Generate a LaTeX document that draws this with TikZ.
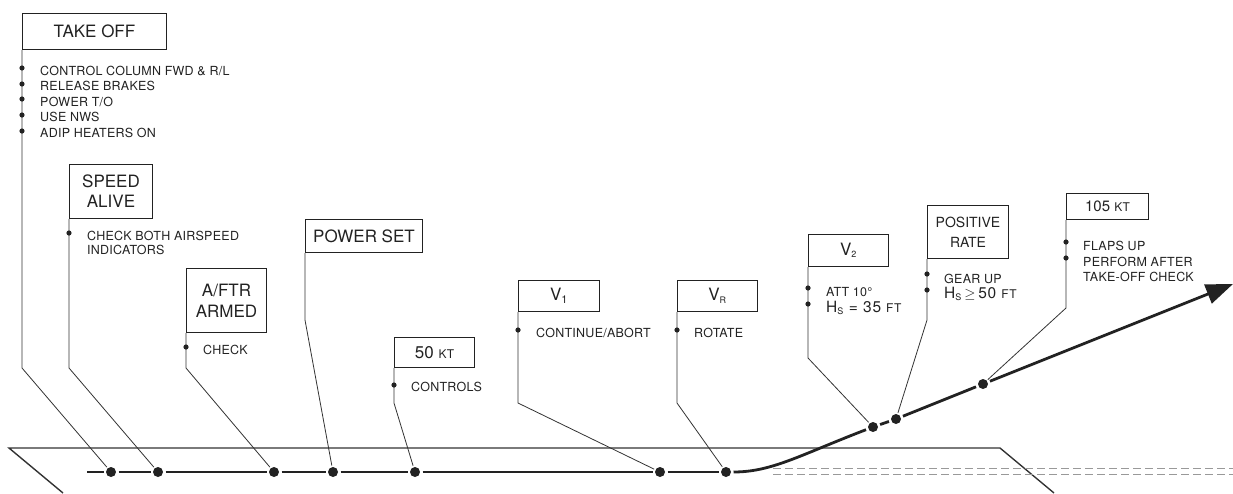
\documentclass[tikz,border=0pt]{standalone}
\usepackage{fontspec}
\setmainfont{TeX Gyre Heros}
\newfontfamily\smf[LetterSpace=2]{TeX Gyre Heros}
\newfontfamily\midsp[LetterSpace=5]{TeX Gyre Heros}
\usetikzlibrary{arrows.meta}
\definecolor{ink}{HTML}{222222}
\definecolor{lead}{HTML}{333333}
\newcommand{\bigf}{\fontsize{17}{20}\selectfont}
\newcommand{\midf}{\fontsize{14}{20}\selectfont}
\newcommand{\smallf}{\smf\fontsize{12.5}{14}\selectfont}
\newcommand{\scf}[1]{{\fontsize{12}{12}\selectfont #1}}
\newcommand{\tinysub}[1]{\textsubscript{\fontsize{9}{9}\selectfont #1}}
\begin{document}
\begin{tikzpicture}[x=1pt,y=-1pt,
  box/.style={draw=ink, line width=1pt, inner sep=0pt, anchor=north west, align=center, text=ink},
  leader/.style={draw=lead, line width=0.8pt},
  leadend/.style={leader, shorten >=6.5pt},
  cline/.style={draw=ink, line width=2.6pt, shorten <=7.5pt, shorten >=7.5pt},
  rway/.style={draw=lead, line width=1.4pt},
  dashrw/.style={draw=gray!80, line width=1pt, dash pattern=on 8pt off 4pt},
  txt/.style={anchor=base west, inner sep=0pt, text=ink, font=\smallf},
  bul/.style={fill=ink}
]
\useasboundingbox (0,0) rectangle (1233,493);

% runway
\draw[rway] (63,493) -- (9,448) -- (1000,448) -- (1054,493);
\draw[dashrw] (773,468) -- (1233,468);
\draw[dashrw] (773,474) -- (1233,474);

% centreline dots
\coordinate (c0) at (87,472);
\coordinate (d1) at (111,472);
\coordinate (d2) at (158,472);
\coordinate (d3) at (274,472);
\coordinate (d4) at (333,472);
\coordinate (d5) at (415,472);
\coordinate (d6) at (660,472);
\coordinate (d7) at (726,472);
\coordinate (d8) at (873,427);
\coordinate (d9) at (896,419);
\coordinate (d10) at (983,384);
\coordinate (tip) at (1233,284);

\draw[cline, shorten <=0pt] (c0) -- (d1);
\draw[cline] (d1) -- (d2);
\draw[cline] (d2) -- (d3);
\draw[cline] (d3) -- (d4);
\draw[cline] (d4) -- (d5);
\draw[cline] (d5) -- (d6);
\draw[cline] (d6) -- (d7);
\draw[cline, line width=2.8pt] (d7) .. controls (772,472) and (800,455) .. (d8);
\draw[cline, line width=2.8pt] (d8) -- (d9);
\draw[cline, line width=2.8pt] (d9) -- (d10);
\draw[draw=ink, line width=2.8pt, shorten <=7.5pt, -{Triangle[length=27pt,width=20pt]}] (d10) -- (tip);
\foreach \d in {d1,d2,d3,d4,d5,d6,d7,d8,d9,d10} \fill[ink] (\d) circle (5);

% 1 TAKE OFF
\node[box, minimum width=144pt, minimum height=36pt, font=\bigf] (to) at (22,13) {TAKE OFF};
\coordinate (b1) at (22,368);
\draw[leadend] (to.south west) -- (b1) -- (d1);
\foreach \y in {68,84,99,115,131} \fill[bul] (22,\y) circle (2.6);
\node[txt] (t1a) at (40,75) {CONTROL COLUMN FWD \& R/L};
\node[txt] (t1b) at (40,90.5) {RELEASE BRAKES};
\node[txt] (t1c) at (40,106) {POWER T/O};
\node[txt] (t1d) at (40,121.5) {USE NWS};
\node[txt] (t1e) at (40,137.5) {ADIP HEATERS ON};

% 2 SPEED ALIVE
\node[box, minimum width=83pt, minimum height=54pt, font=\bigf] (sa) at (69,164) {SPEED\\ALIVE};
\coordinate (b2) at (69,368);
\draw[leadend] (sa.south west) -- (b2) -- (d2);
\fill[bul] (69,233) circle (2.6);
\node[txt] (t2a) at (87,240.5) {CHECK BOTH AIRSPEED};
\node[txt] (t2b) at (87,254.5) {INDICATORS};

% 3 A/FTR ARMED
\node[box, minimum width=80pt, minimum height=64pt, font=\fontsize{17}{21}\selectfont] (af) at (186,268) {A/FTR\\ARMED};
\coordinate (b3) at (186,368);
\draw[leadend] (af.south west) -- (b3) -- (d3);
\fill[bul] (186,347) circle (2.6);
\node[txt] (t3a) at (203,354) {CHECK};

% 4 POWER SET
\node[box, minimum width=117pt, minimum height=33pt, font=\bigf] (ps) at (305,219) {POWER SET};
\coordinate (b4) at (305,320);
\draw[leadend] (ps.south west) -- (b4) -- (d4);

% 5 50 KT
\node[box, minimum width=80pt, minimum height=30pt, font=\bigf] (k50) at (394,337) {50 \scf{KT}};
\coordinate (b5) at (394,403);
\draw[leadend] (k50.south west) -- (b5) -- (d5);
\fill[bul] (394,385) circle (2.6);
\node[txt] (t5a) at (411,391) {CONTROLS};

% 6 V1
\node[box, minimum width=81pt, minimum height=31pt, font=\bigf] (v1) at (518,280) {V\textsubscript{\fontsize{11}{11}\selectfont 1}};
\coordinate (b6) at (518,403);
\draw[leadend] (v1.south west) -- (b6) -- (d6);
\fill[bul] (518,330) circle (2.6);
\node[txt] (t6a) at (536,337) {CONTINUE/ABORT};

% 7 VR
\node[box, minimum width=80pt, minimum height=31pt, font=\bigf] (vr) at (677,280) {V\tinysub{R}};
\coordinate (b7) at (677,403);
\draw[leadend] (vr.south west) -- (b7) -- (d7);
\fill[bul] (677,330) circle (2.6);
\node[txt] (t7a) at (694,337) {ROTATE};

% 8 V2
\node[box, minimum width=80pt, minimum height=32pt, font=\bigf] (v2) at (808,234) {V\tinysub{2}};
\coordinate (b8) at (808,358);
\draw[leadend] (v2.south west) -- (b8) -- (d8);
\fill[bul] (808,288) circle (2.6);
\fill[bul] (808,304) circle (2.6);
\node[txt] (t8a) at (826,296) {ATT 10°};
\node[txt, font=\midsp\fontsize{15.5}{16}\selectfont] (t8b) at (826,312.5) {H\tinysub{S} = 35 \scf{FT}};

% 9 POSITIVE RATE
\node[box, minimum width=81pt, minimum height=53pt, font=\midf] (pr) at (927,205) {POSITIVE\\RATE};
\coordinate (b9) at (927,320);
\draw[leadend] (pr.south west) -- (b9) -- (d9);
\fill[bul] (927,274) circle (2.6);
\fill[bul] (927,290) circle (2.6);
\node[txt] (t9a) at (944,283) {GEAR UP};
\node[txt, font=\midsp\fontsize{15.5}{16}\selectfont] (t9b) at (944,298) {H\tinysub{S}\,$\geq$\,50 \scf{FT}};

% 10 105 KT
\node[box, minimum width=82pt, minimum height=26pt, font=\fontsize{15}{16}\selectfont] (k105) at (1066,193) {105 \scf{KT}};
\coordinate (b10) at (1066,308);
\draw[leadend] (k105.south west) -- (b10) -- (d10);
\fill[bul] (1066,242) circle (2.6);
\fill[bul] (1066,258) circle (2.6);
\node[txt] (t10a) at (1083,250) {FLAPS UP};
\node[txt] (t10b) at (1083,266) {PERFORM AFTER};
\node[txt] (t10c) at (1083,281.5) {TAKE-OFF CHECK};
\end{tikzpicture}
\end{document}
